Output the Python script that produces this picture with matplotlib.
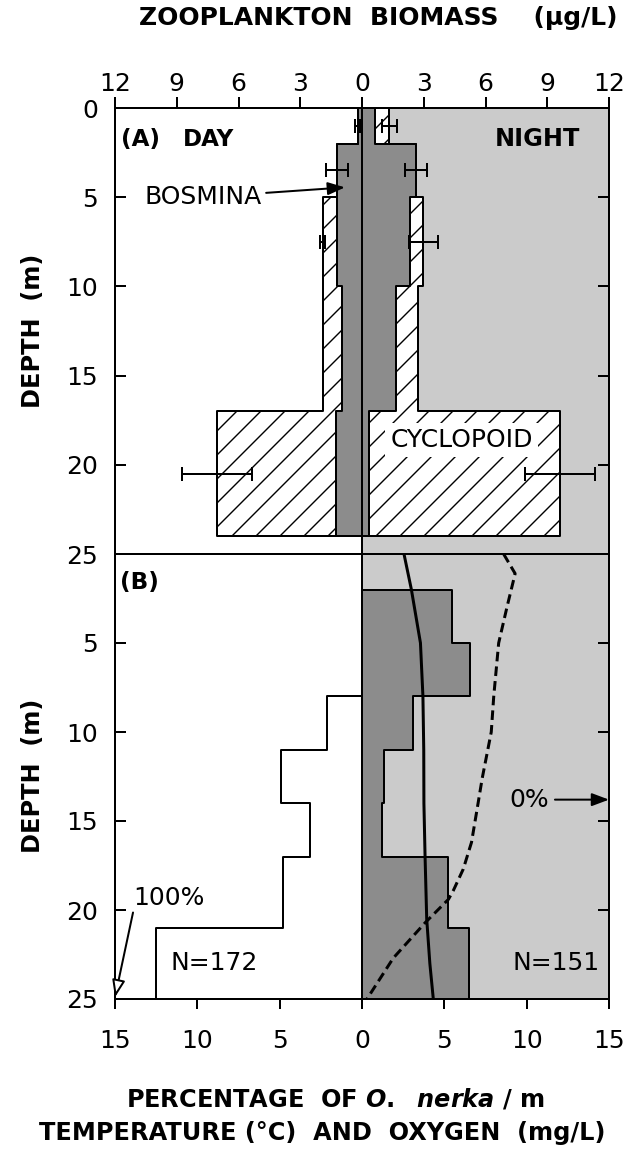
import numpy as np
import matplotlib
matplotlib.use('Agg')
import matplotlib.pyplot as plt

# (A) zooplankton biomass (ug/L) per depth layer, day on the left, night on the right
layer_edges = [0, 2, 5, 10, 17, 24]
bosmina_day = [0.2, 1.2, 1.2, 0.95, 1.25]
cyclopoid_day = [0.0, 0.0, 0.7, 0.95, 5.8]
bosmina_night = [0.64, 2.62, 2.33, 1.65, 0.36]
cyclopoid_night = [0.69, 0.0, 0.65, 1.08, 9.24]
err_depth = [1.0, 3.5, 7.5, 13.5, 20.5]
err_day = [0.12, 0.53, 0.12, np.nan, 1.7]
err_night = [0.35, 0.55, 0.7, np.nan, 1.7]

biomass_ticks = [-12, -9, -6, -3, 0, 3, 6, 9, 12]
biomass_labels = ['12', '9', '6', '3', '0', '3', '6', '9', '12']
depth_ticks_a = [0, 5, 10, 15, 20, 25]

# (B) percentage of O. nerka per m, temperature and oxygen
fish_edges = [0, 2, 5, 8, 11, 14, 17, 21, 25]
fish_day = [0, 0, 0, 2.1, 4.9, 3.15, 4.8, 12.5]
fish_night = [0, 5.45, 6.55, 3.1, 1.35, 1.2, 5.25, 6.5]
temp_depth = [0, 2, 5, 8, 11, 14, 17, 20.5, 23, 25]
temperature = [2.55, 3.0, 3.55, 3.7, 3.75, 3.76, 3.83, 3.93, 4.12, 4.33]
oxy_depth = [0, 1.1, 3, 5, 8, 10, 12.6, 14, 16.2, 17.7, 18.9, 19.4, 20.7, 22.7, 25]
oxygen = [8.6, 9.3, 8.8, 8.3, 8.0, 7.85, 7.3, 7.05, 6.65, 6.15, 5.55, 5.25, 3.85, 1.9, 0.3]

pct_ticks = [-15, -10, -5, 0, 5, 10, 15]
pct_labels = ['15', '10', '5', '0', '5', '10', '15']
depth_ticks_b = [5, 10, 15, 20, 25]

LIGHT = '#cbcbcb'
DARK = '#8c8c8c'
FS = 25      # tick labels and in-plot text
FSB = 24     # bold axis titles

plt.rcParams['hatch.linewidth'] = 1.4
plt.rcParams['mathtext.fontset'] = 'custom'
plt.rcParams['mathtext.it'] = 'DejaVu Sans:italic:bold'
plt.rcParams['mathtext.rm'] = 'DejaVu Sans:bold'

W, H = 638, 1149
fig = plt.figure(figsize=(W / 72, H / 72), dpi=72)


def px_box(x0, y0, x1, y1):
    return [x0 / W, 1 - y1 / H, (x1 - x0) / W, (y1 - y0) / H]


def outline(edges, vals, sign):
    # step profile of a layered histogram, closed back to x=0
    x = np.repeat(np.asarray(vals, float) * sign, 2)
    y = np.repeat(edges, 2)[1:-1]
    return np.r_[0, x, 0], np.r_[edges[0], y, edges[-1]]


def style_axes(ax):
    for s in ax.spines.values():
        s.set_linewidth(2)
    ax.tick_params(axis='y', direction='in', left=True, right=True,
                   length=11, width=2, pad=17, labelsize=FS)


ax1 = fig.add_axes(px_box(115, 108, 609, 554))
ax2 = fig.add_axes(px_box(115, 554, 609, 999))

# ---- panel A
ax1.axvspan(0, 12, color=LIGHT, zorder=0, lw=0)
h = np.diff(layer_edges)
for sign, bos, cyc, err in [(-1, bosmina_day, cyclopoid_day, err_day),
                            (1, bosmina_night, cyclopoid_night, err_night)]:
    bos = np.array(bos)
    cyc = np.array(cyc)
    total = bos + cyc
    ax1.barh(layer_edges[:-1], sign * bos, height=h, align='edge',
             color=DARK, lw=0, zorder=2)
    ax1.barh(layer_edges[:-1], sign * cyc, left=sign * bos, height=h, align='edge',
             facecolor='white', edgecolor='black', hatch='/', lw=0, zorder=2)
    ax1.plot(*outline(layer_edges, bos, sign), color='k', lw=2, zorder=3)
    ax1.plot(*outline(layer_edges, total, sign), color='k', lw=2, zorder=3)
    ax1.errorbar(sign * total, err_depth, xerr=err, fmt='none', ecolor='k',
                 elinewidth=2, capsize=7, capthick=2, zorder=4)
ax1.axvline(0, color='k', lw=2, zorder=3)

ax1.text(-11.7, 1.75, '(A)', fontsize=FS - 2, fontweight='bold', va='center')
ax1.text(-8.7, 1.75, 'DAY', fontsize=FS - 2, fontweight='bold', va='center')
ax1.text(10.6, 1.75, 'NIGHT', fontsize=FS - 1, fontweight='bold', va='center', ha='right')
ax1.annotate('BOSMINA', xy=(-0.83, 4.45), xytext=(-7.7, 5.0), fontsize=FS,
             ha='center', va='center', zorder=5,
             arrowprops=dict(arrowstyle='-|>,head_length=0.8,head_width=0.3',
                             color='k', lw=2, mutation_scale=18, shrinkA=2, shrinkB=0))
ax1.text(4.84, 18.6, 'CYCLOPOID', fontsize=FS, ha='center', va='center', zorder=5,
         bbox=dict(facecolor='white', edgecolor='none', pad=5))

ax1.set_xlim(-12, 12)
ax1.set_ylim(25, 0)
ax1.xaxis.tick_top()
ax1.set_xticks(biomass_ticks, biomass_labels)
ax1.set_yticks(depth_ticks_a)
ax1.tick_params(axis='x', direction='out', length=11, width=2, pad=1, labelsize=FS)
style_axes(ax1)

# ---- panel B
ax2.axvspan(0, 15, color=LIGHT, zorder=0, lw=0)
fh = np.diff(fish_edges)
ax2.barh(fish_edges[:-1], fish_night, height=fh, align='edge', color=DARK, lw=0, zorder=2)
ax2.plot(*outline(fish_edges, fish_night, 1), color='k', lw=2, zorder=3)
ax2.plot(*outline(fish_edges, fish_day, -1), color='k', lw=2, zorder=3)
ax2.axvline(0, color='k', lw=2, zorder=3)
ax2.plot(temperature, temp_depth, color='k', lw=3, zorder=4)
ax2.plot(oxygen, oxy_depth, color='k', lw=3, ls=(0, (3.2, 1.7)), zorder=4)

ax2.text(-14.7, 1.6, '(B)', fontsize=FS - 2, fontweight='bold', va='center')
ax2.text(-9.0, 23.0, 'N=172', fontsize=FS, ha='center', va='center')
ax2.text(11.8, 23.0, 'N=151', fontsize=FS, ha='center', va='center')
ax2.annotate('0%', xy=(15, 13.8), xytext=(10.15, 13.8), fontsize=FS,
             ha='center', va='center',
             arrowprops=dict(arrowstyle='-|>,head_length=0.8,head_width=0.3',
                             color='k', lw=2, mutation_scale=18, shrinkA=4, shrinkB=0))
ax2.annotate('100%', xy=(-15, 24.9), xytext=(-11.7, 19.3), fontsize=FS,
             ha='center', va='center',
             arrowprops=dict(arrowstyle='-|>,head_length=0.8,head_width=0.3',
                             facecolor='white', edgecolor='k', lw=2, relpos=(0, 0),
                             mutation_scale=18, shrinkA=1, shrinkB=0))

ax2.set_xlim(-15, 15)
ax2.set_ylim(25, 0)
ax2.set_xticks(pct_ticks, pct_labels)
ax2.set_yticks(depth_ticks_b)
ax2.tick_params(axis='x', direction='out', length=10, width=2, pad=20, labelsize=FS)
style_axes(ax2)

# ---- titles
fig.text(378 / W, 1 - 18 / H, 'ZOOPLANKTON  BIOMASS    (µg/L)', fontsize=FS,
         fontweight='bold', ha='center', va='center')
fig.text(33 / W, 1 - 331 / H, 'DEPTH  (m)', fontsize=FSB, fontweight='bold',
         rotation=90, ha='center', va='center')
fig.text(33 / W, 1 - 776 / H, 'DEPTH  (m)', fontsize=FSB, fontweight='bold',
         rotation=90, ha='center', va='center')
fig.text(335 / W, 1 - 1099 / H, r'PERCENTAGE  OF $\mathit{O.\ \ nerka}$ / m',
         fontsize=FSB, fontweight='bold', ha='center', va='center')
fig.text(322 / W, 1 - 1133 / H, 'TEMPERATURE (°C)  AND  OXYGEN  (mg/L)',
         fontsize=FSB, fontweight='bold', ha='center', va='center')

fig.savefig('out.png', dpi=72)
